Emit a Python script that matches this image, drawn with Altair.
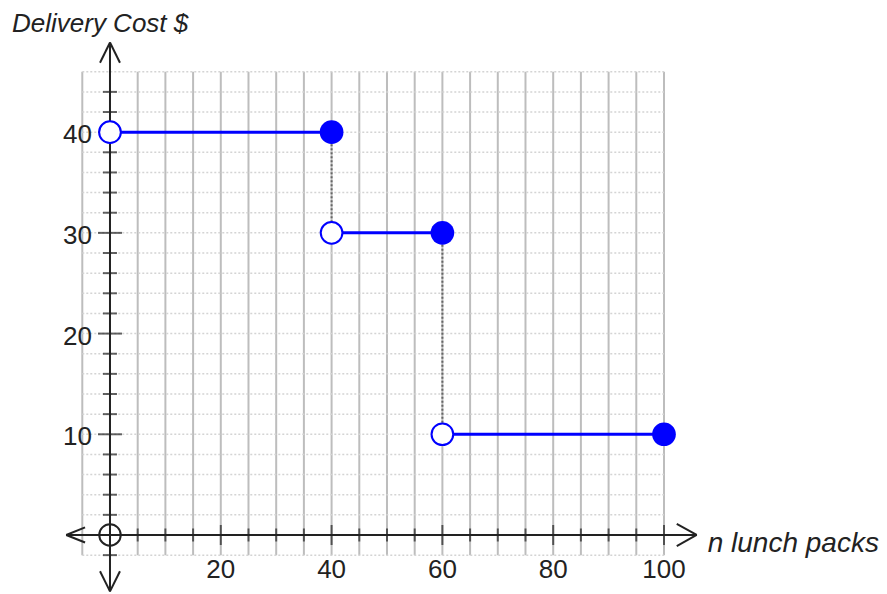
import altair as alt
import pandas as pd

# ---------------- data ----------------
seg_start = [0, 40, 60]
seg_end = [40, 60, 100]
seg_cost = [40, 30, 10]

jump_x = [40, 60]
jump_from = [40, 30]
jump_to = [30, 10]

x_labels = [20, 40, 60, 80, 100]
y_labels = [10, 20, 30, 40]

x_grid = list(range(-5, 101, 5))
y_grid = list(range(-2, 47, 2))
x_ticks = list(range(5, 101, 5))
y_ticks = [v for v in range(-2, 45, 2) if v != 0]

x_title = "n lunch packs"
y_title = "Delivery Cost $"

# axis extents (data units)
x_axis_lo, x_axis_hi = -7.9, 105.9
y_axis_lo, y_axis_hi = -5.6, 48.9
grid_x_lo, grid_x_hi = -5, 100
grid_y_lo, grid_y_hi = -2, 46

# ---------------- scales ----------------
W, H = 871, 586
xs = alt.Scale(domain=[-18.41, 138.81], nice=False, zero=False)
ys = alt.Scale(domain=[-5.86, 52.33], nice=False, zero=False)
FONT = "Liberation Sans"
BLUE = "#0000ff"

def X(f):
    return alt.X(f, type="quantitative", scale=xs, axis=None)

def Y(f):
    return alt.Y(f, type="quantitative", scale=ys, axis=None)

# grid
vgrid = pd.DataFrame({"x": x_grid, "y": grid_y_lo, "y2": grid_y_hi})
hgrid = pd.DataFrame({"y": y_grid, "x": grid_x_lo, "x2": grid_x_hi})
vg = alt.Chart(vgrid).mark_rule(color="#bdbdbd", strokeWidth=2).encode(
    x=X("x"), y=Y("y"), y2="y2")
hg = alt.Chart(hgrid).mark_rule(color="#d4d4d4", strokeWidth=1.5, strokeDash=[2, 2]).encode(
    y=Y("y"), x=X("x"), x2="x2")

# axes with arrowheads
axes_df = pd.DataFrame({
    "x": [x_axis_lo, 0, 0, 0, 0, 0, x_axis_lo, x_axis_lo, x_axis_hi, x_axis_hi],
    "y": [0, y_axis_lo, y_axis_hi, y_axis_hi, y_axis_lo, y_axis_lo, 0, 0, 0, 0],
    "x2": [x_axis_hi, 0, -1.8, 1.8, -1.8, 1.8, x_axis_lo + 3.4, x_axis_lo + 3.4,
           x_axis_hi - 3.6, x_axis_hi - 3.6],
    "y2": [0, y_axis_hi, y_axis_hi - 2.0, y_axis_hi - 2.0, y_axis_lo + 2.0, y_axis_lo + 2.0,
           0.75, -0.75, 1.1, -1.1],
})
axes = alt.Chart(axes_df).mark_rule(color="#222222", strokeWidth=2).encode(
    x=X("x"), y=Y("y"), x2="x2", y2="y2")

# ticks
xt = pd.DataFrame({"x": x_ticks, "y": 0, "major": [v in x_labels for v in x_ticks]})
yt = pd.DataFrame({"y": y_ticks, "x": 0, "major": [v in y_labels for v in y_ticks]})
xtick_minor = alt.Chart(xt[~xt.major]).mark_tick(orient="vertical", size=13, thickness=2, color="#222").encode(
    x=X("x"), y=Y("y"))
xtick_major = alt.Chart(xt[xt.major]).mark_tick(orient="vertical", size=20, thickness=2, color="#222").encode(
    x=X("x"), y=Y("y"))
ytick_minor = alt.Chart(yt[~yt.major]).mark_tick(orient="horizontal", size=14, thickness=2, color="#222").encode(
    x=X("x"), y=Y("y"))
ytick_major = alt.Chart(yt[yt.major]).mark_tick(orient="horizontal", size=24, thickness=2, color="#222").encode(
    x=X("x"), y=Y("y"))

# origin circle
origin = alt.Chart(pd.DataFrame({"x": [0], "y": [0]})).mark_point(
    shape="circle", size=460, filled=False, color="#222", strokeWidth=2, opacity=1).encode(x=X("x"), y=Y("y"))

# tick labels
xl = alt.Chart(pd.DataFrame({"x": x_labels, "y": 0, "t": [str(v) for v in x_labels]})).mark_text(
    font=FONT, fontSize=26, color="#222", baseline="middle", align="center", dy=35).encode(
    x=X("x"), y=Y("y"), text="t:N")
yl = alt.Chart(pd.DataFrame({"y": y_labels, "x": 0, "t": [str(v) for v in y_labels]})).mark_text(
    font=FONT, fontSize=26, color="#222", baseline="middle", align="right", dx=-18, dy=3).encode(
    x=X("x"), y=Y("y"), text="t:N")

# titles
yt_txt = alt.Chart(pd.DataFrame({"x": [0], "y": [y_axis_hi], "t": [y_title]})).mark_text(
    font=FONT, fontSize=26, fontStyle="italic", color="#222", align="left", baseline="alphabetic",
    dx=-98, dy=-11).encode(x=X("x"), y=Y("y"), text="t:N")
xt_txt = alt.Chart(pd.DataFrame({"x": [x_axis_hi], "y": [0], "t": [x_title]})).mark_text(
    font=FONT, fontSize=28, fontStyle="italic", color="#222", align="left", baseline="alphabetic",
    dx=11, dy=17).encode(x=X("x"), y=Y("y"), text="t:N")

# jumps (dotted)
jumps = alt.Chart(pd.DataFrame({"x": jump_x, "y": jump_from, "y2": jump_to})).mark_rule(
    color="#666666", strokeWidth=2, strokeDash=[2, 2]).encode(x=X("x"), y=Y("y"), y2="y2")

# step segments
seg_df = pd.DataFrame({"x": seg_start, "x2": seg_end, "y": seg_cost})
segs = alt.Chart(seg_df).mark_rule(color=BLUE, strokeWidth=3).encode(x=X("x"), x2="x2", y=Y("y"))

open_pts = alt.Chart(pd.DataFrame({"x": seg_start, "y": seg_cost})).mark_point(
    shape="circle", size=470, filled=True, fill="white", stroke=BLUE, strokeWidth=2, opacity=1).encode(
    x=X("x"), y=Y("y"))
closed_pts = alt.Chart(pd.DataFrame({"x": seg_end, "y": seg_cost})).mark_point(
    shape="circle", size=560, filled=True, color=BLUE, opacity=1).encode(x=X("x"), y=Y("y"))

chart = alt.layer(
    vg, hg, axes, xtick_minor, xtick_major, ytick_minor, ytick_major, origin,
    xl, yl, yt_txt, xt_txt, jumps, segs, open_pts, closed_pts
).properties(width=W, height=H, autosize="none", padding=0).configure_view(stroke=None)

chart.save("out.html", embed_options={"renderer": "svg", "actions": False})
